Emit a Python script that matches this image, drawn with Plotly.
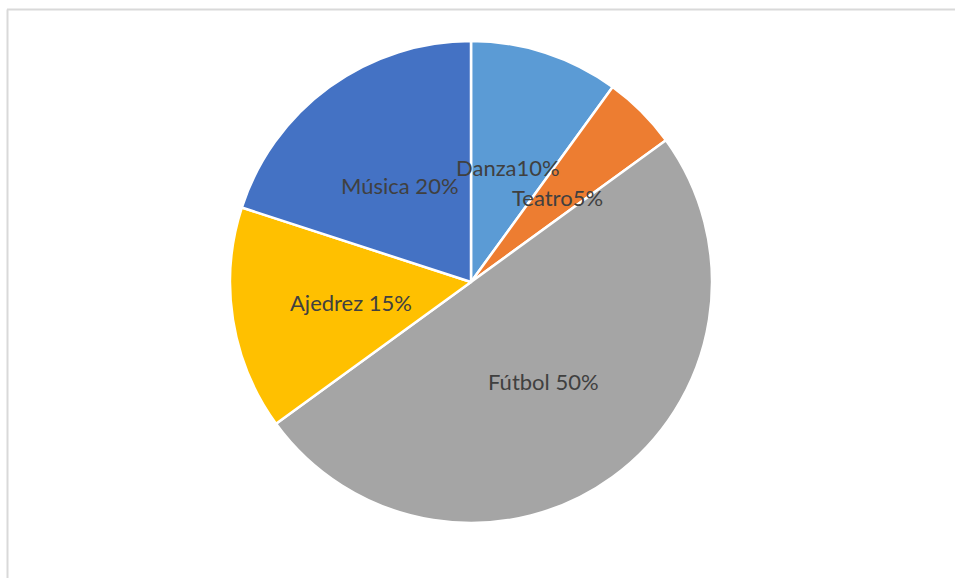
import plotly.graph_objects as go

categories = ["Danza", "Teatro", "Fútbol", "Ajedrez", "Música"]
values = [10, 5, 50, 15, 20]
label_texts = ["Danza10%", "Teatro5%", "Fútbol 50%", "Ajedrez 15%", "Música 20%"]
colors = ["#5B9BD5", "#ED7D31", "#A5A5A5", "#FFC000", "#4472C4"]
# label centres in pixels (x from left, y from top) as placed in the reference
label_px = [(508, 167), (557, 198), (543, 381), (351, 302), (400, 185)]

W, H = 955, 578

fig = go.Figure(go.Pie(
    labels=categories,
    values=values,
    sort=False,
    direction="clockwise",
    rotation=0,
    marker=dict(colors=colors, line=dict(color="white", width=2.5)),
    textinfo="none",
    hoverinfo="label+percent",
    showlegend=False,
    domain=dict(x=[230 / W, 712 / W], y=[1 - 523 / H, 1 - 41 / H]),
))

annotations = []
for txt, (px, py) in zip(label_texts, label_px):
    annotations.append(dict(
        text=txt, x=px / W, y=1 - py / H, xref="paper", yref="paper",
        xanchor="center", yanchor="middle", showarrow=False,
        font=dict(family="Lato", size=22, color="#404040"),
    ))

shapes = [
    dict(type="line", xref="paper", yref="paper", x0=7 / W, x1=1, y0=1 - 9.5 / H, y1=1 - 9.5 / H,
         line=dict(color="#D9D9D9", width=2)),
    dict(type="line", xref="paper", yref="paper", x0=7.5 / W, x1=7.5 / W, y0=0, y1=1 - 9.5 / H,
         line=dict(color="#D9D9D9", width=2)),
]

fig.update_layout(
    width=W, height=H,
    margin=dict(l=0, r=0, t=0, b=0),
    paper_bgcolor="white",
    plot_bgcolor="white",
    annotations=annotations,
    shapes=shapes,
)

fig.write_html("out.html")
